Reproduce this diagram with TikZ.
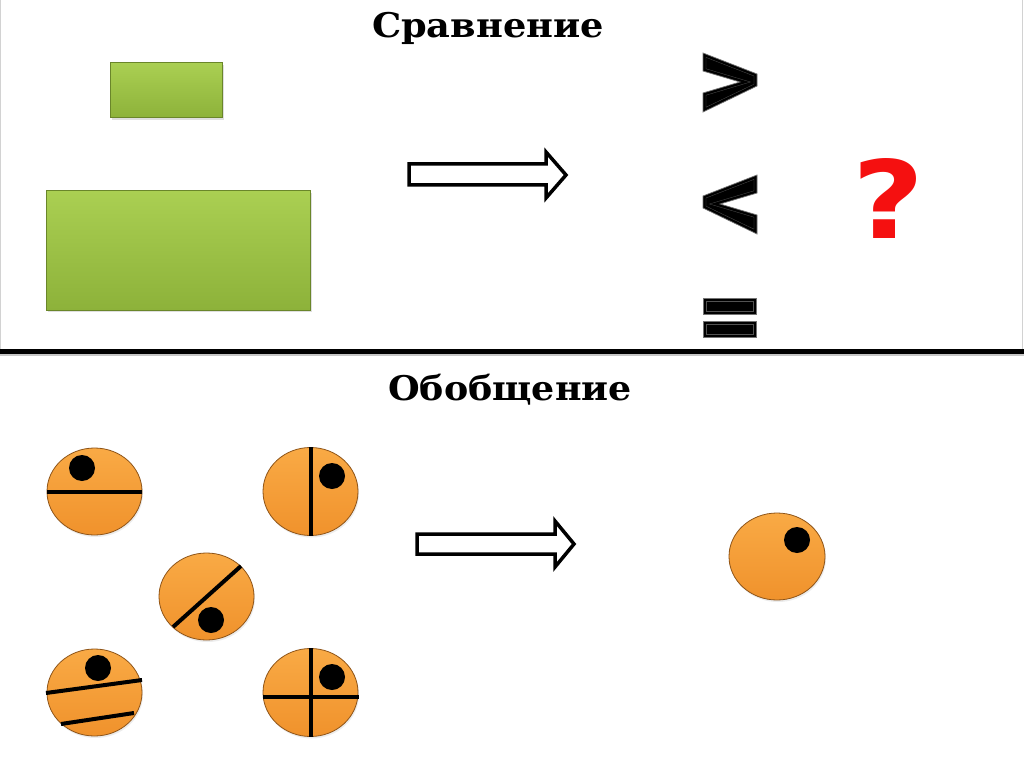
\documentclass[tikz,border=0pt]{standalone}
\usepackage{fontspec}
\newfontfamily\titlefont{DejaVu Serif}
\newfontfamily\qfont{DejaVu Sans}
\usetikzlibrary{shadows}
\definecolor{greentop}{HTML}{AACF52}
\definecolor{greenbot}{HTML}{8DB23A}
\definecolor{greenedge}{HTML}{6A862A}
\definecolor{orangetop}{HTML}{F9AA45}
\definecolor{orangebot}{HTML}{F0922C}
\definecolor{orangeedge}{HTML}{8E5418}
\definecolor{qred}{HTML}{F51010}
\tikzset{
  greenbox/.style={draw=greenedge, line width=1pt, top color=greentop, bottom color=greenbot,
    drop shadow={opacity=0.25, shadow xshift=1.5pt, shadow yshift=-2pt}},
  coin/.style={draw=orangeedge, line width=0.8pt, top color=orangetop, bottom color=orangebot,
    drop shadow={opacity=0.15, shadow xshift=1pt, shadow yshift=-2pt}},
  cutline/.style={line width=4pt, black},
  blackdot/.style={fill=black},
  hollowarrow/.style={draw=black, line width=3.5pt, fill=white, line join=miter},
  symfill/.style={fill=black, draw=black!55, line width=0.7pt},
  symdash/.style={draw=black!68, line width=0.3pt},
  titletext/.style={font=\titlefont\bfseries\fontsize{34}{40}\selectfont, inner sep=0pt, anchor=base},
}
\begin{document}
\begin{tikzpicture}[x=1pt,y=-1pt]
\useasboundingbox (0,0) rectangle (1024,767);
\fill[white] (0,0) rectangle (1024,767);
\draw[gray!35, line width=0.6pt] (0.5,0) -- (0.5,350);
\draw[gray!35, line width=0.6pt] (1022,0) -- (1022,350);

% titles
\node[titletext] (t1) at (488,38) {\scalebox{1.08}[1]{Сравнение}};
\node[titletext] (t2) at (510,400) {\scalebox{1.07}[1]{Обобщение}};

% green rectangles
\draw[greenbox] (110,63) rectangle (222,118);
\draw[greenbox] (46,191) rectangle (310,310);

% hollow arrows
\draw[hollowarrow] (409,164) -- (546,164) -- (546,152) -- (566,175) -- (546,198) -- (546,185) -- (409,185) -- cycle;
\draw[hollowarrow] (417,534) -- (555,534) -- (555,521) -- (574,544) -- (555,567) -- (555,554) -- (417,554) -- cycle;

% > symbol
\draw[symfill] (703,53) -- (757,74) -- (757,86) -- (703,112) -- (703,93) -- (740,82) -- (703,71) -- cycle;
\draw[symdash] (706,57.4) -- (754,76) -- (754,84.2) -- (706,107.2) -- (706,95.2) -- (750.5,82) -- (706,68.8) -- cycle;
% < symbol (mirror)
\begin{scope}[shift={(1460,122)}, xscale=-1]
\draw[symfill] (703,53) -- (757,74) -- (757,86) -- (703,112) -- (703,93) -- (740,82) -- (703,71) -- cycle;
\draw[symdash] (706,57.4) -- (754,76) -- (754,84.2) -- (706,107.2) -- (706,95.2) -- (750.5,82) -- (706,68.8) -- cycle;
\end{scope}
% = symbol
\draw[symfill] (703,298) rectangle (756,314);
\draw[symdash] (706,301) rectangle (753,311);
\draw[symfill] (703,321) rectangle (756,337);
\draw[symdash] (706,324) rectangle (753,334);

% question mark
\node[text=qred, inner sep=0pt] (q) at (889,199) {\resizebox{72pt}{80pt}{\qfont\bfseries ?}};

% divider
\draw[gray!45, line width=2pt] (0,355) -- (1024,355);
\draw[black, line width=4.5pt] (0,351.5) -- (1024,351.5);

% coins
\draw[coin] (94.5,491.5) ellipse [x radius=47.5, y radius=43.5];
\draw[cutline] (47,492) -- (142,492);
\fill[blackdot] (82,468) circle [radius=13];

\draw[coin] (310.5,491.5) ellipse [x radius=47.5, y radius=44];
\draw[cutline] (311,447) -- (311,536);
\fill[blackdot] (332,476) circle [radius=13];

\draw[coin] (206.5,596.5) ellipse [x radius=47.5, y radius=43.5];
\draw[cutline] (173,627) -- (241,566);
\fill[blackdot] (211,620) circle [radius=13];

\draw[coin] (94.5,692.5) ellipse [x radius=47.5, y radius=43.5];
\draw[cutline] (46,693) -- (142,680);
\draw[cutline] (61,724) -- (134,713);
\fill[blackdot] (98,668) circle [radius=13];

\draw[coin] (310.5,692.5) ellipse [x radius=47.5, y radius=44];
\draw[cutline] (311,648) -- (311,737);
\draw[cutline] (263,697) -- (359,697);
\fill[blackdot] (332,677) circle [radius=13];

\draw[coin] (777,556.5) ellipse [x radius=48, y radius=43.5];
\fill[blackdot] (797,540) circle [radius=13];
\end{tikzpicture}
\end{document}
